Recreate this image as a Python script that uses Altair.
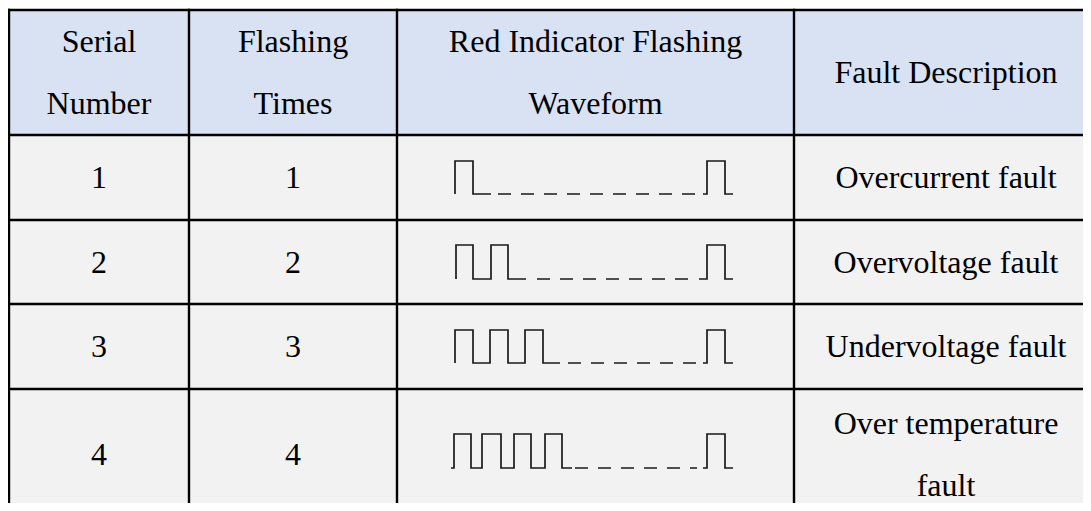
import altair as alt
import pandas as pd

# ---------------- table content ----------------
header_cells = [["Serial", "Number"], ["Flashing", "Times"],
                ["Red Indicator Flashing", "Waveform"], ["Fault Description"]]
serial_numbers = ["1", "2", "3", "4"]
flashing_times = ["1", "2", "3", "4"]
fault_descriptions = [["Overcurrent fault"], ["Overvoltage fault"],
                      ["Undervoltage fault"], ["Over temperature", "fault"]]

# ---------------- waveform readings, one entry per row ----------------
wave_start = [455, 456, 455, 451]
wave_rises = [[455], [456, 491], [455, 490, 525], [454, 482, 514, 545]]
wave_falls = [[473], [473, 508], [473, 508, 543], [471, 501, 531, 562]]
wave_tail = [491, 526, 560, 572]
dash_start = [498, 537, 568, 575]
dash_end = [695, 688, 696, 697]
last_lead = [703, 699, 703, 703]
last_rise = [707, 707, 707, 707]
last_fall = [725, 725, 725, 725]
last_end = [733, 733, 733, 733]
wave_high = [161, 245, 330, 434]
wave_low = [194, 279, 363, 468]

# ---------------- layout ----------------
col_edges = [9, 189, 397, 794, 1098]
row_edges = [10, 135, 220, 304, 389, 519]
LINE_GAP = 62
BASE_OFF = 10.5
HEADER_BG = "#D9E2F3"
BODY_BG = "#F2F2F2"
FONT = "Liberation Serif"

# backgrounds
bg_rows = []
for r in range(len(row_edges) - 1):
    bg_rows.append({"x": col_edges[0], "x2": col_edges[-1],
                    "y": row_edges[r], "y2": row_edges[r + 1],
                    "fill": HEADER_BG if r == 0 else BODY_BG})
bg_df = pd.DataFrame(bg_rows)

# grid lines
grid_rows = []
for e in row_edges:
    grid_rows.append({"x": col_edges[0], "x2": col_edges[-1], "y": e, "y2": e})
for e in col_edges:
    grid_rows.append({"x": e, "x2": e, "y": row_edges[0], "y2": row_edges[-1]})
grid_df = pd.DataFrame(grid_rows)

# texts
table_rows = [header_cells] + [
    [[serial_numbers[i]], [flashing_times[i]], [], fault_descriptions[i]]
    for i in range(4)
]
text_rows = []
for r, cells in enumerate(table_rows):
    cy = (row_edges[r] + row_edges[r + 1]) / 2
    for c, lines in enumerate(cells):
        cx = (col_edges[c] + col_edges[c + 1]) / 2
        n = len(lines)
        for i, t in enumerate(lines):
            text_rows.append({"x": cx, "y": cy + (i - (n - 1) / 2) * LINE_GAP + BASE_OFF,
                              "label": t})
text_df = pd.DataFrame(text_rows)

# waveform paths
wave_rows = []
for r in range(4):
    hi, lo = wave_high[r], wave_low[r]
    pts = [(wave_start[r], lo)]
    for a, b in zip(wave_rises[r], wave_falls[r]):
        pts += [(a, lo), (a, hi), (b, hi), (b, lo)]
    pts.append((wave_tail[r], lo))
    for k, (px, py) in enumerate(pts):
        wave_rows.append({"seg": f"{r}a", "k": k, "x": px, "y": py})
    pts2 = [(last_lead[r], lo), (last_rise[r], lo), (last_rise[r], hi),
            (last_fall[r], hi), (last_fall[r], lo), (last_end[r], lo)]
    for k, (px, py) in enumerate(pts2):
        wave_rows.append({"seg": f"{r}b", "k": k, "x": px, "y": py})
wave_df = pd.DataFrame(wave_rows)

dash_df = pd.DataFrame({"x": dash_start, "x2": dash_end, "y": wave_low, "y2": wave_low})

# page coordinates: the chart starts after the page's 8px margin
xs = alt.Scale(domain=[8, 1083], nice=False, zero=False)
ys = alt.Scale(domain=[8, 503], reverse=True, nice=False, zero=False)
X = alt.X("x:Q", scale=xs, axis=None)
Y = alt.Y("y:Q", scale=ys, axis=None)

bg = alt.Chart(bg_df).mark_rect(clip=True).encode(
    x=X, x2="x2:Q", y=Y, y2="y2:Q", color=alt.Color("fill:N", scale=None))

texts = alt.Chart(text_df).mark_text(
    font=FONT, fontSize=32, color="#000000", align="center", baseline="alphabetic"
).encode(x=X, y=Y, text="label:N")

waves = alt.Chart(wave_df).mark_line(
    color="#1a1a1a", strokeWidth=1.7, strokeJoin="miter", strokeCap="butt", clip=True
).encode(x=X, y=Y, detail="seg:N", order="k:Q")

dashes = alt.Chart(dash_df).mark_rule(
    color="#1a1a1a", strokeWidth=1.7, strokeDash=[13, 10], strokeCap="butt"
).encode(x=X, x2="x2:Q", y=Y, y2="y2:Q")

grid = alt.Chart(grid_df).mark_rule(
    color="#000000", strokeWidth=2.4, strokeCap="square", clip=True
).encode(x=X, x2="x2:Q", y=Y, y2="y2:Q")

chart = alt.layer(bg, texts, waves, dashes, grid).properties(
    width=1075, height=495, padding=0,
    autosize=alt.AutoSizeParams(type="none"),
    background="white",
).configure_view(stroke=None)

chart.save("out.html", embed_options={"renderer": "svg", "actions": False})
